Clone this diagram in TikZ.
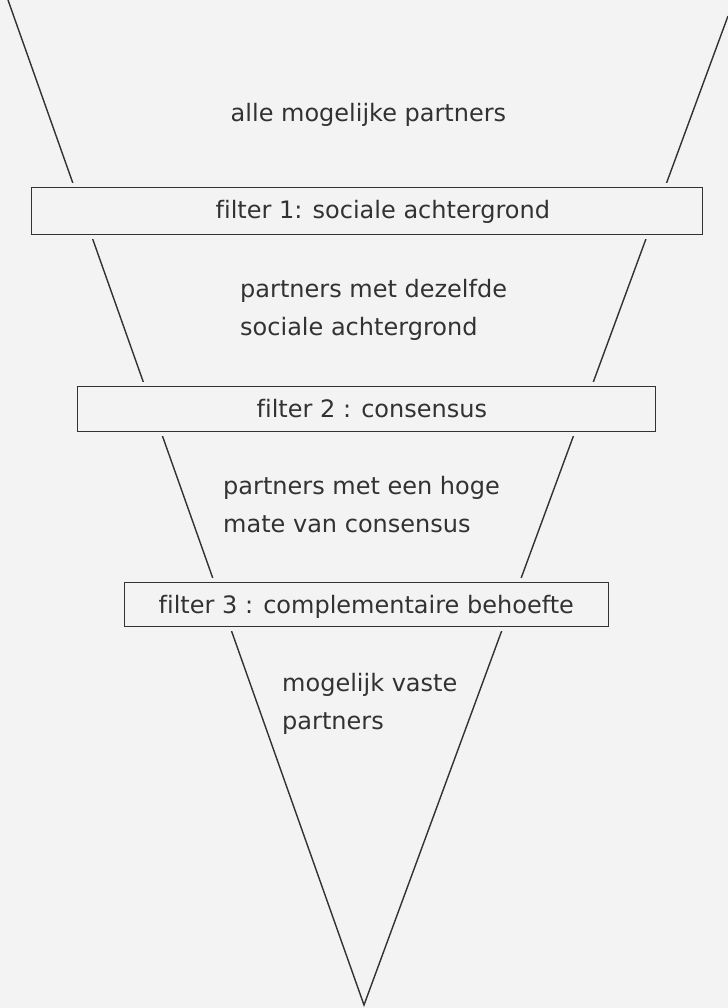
\documentclass[tikz,border=0pt]{standalone}
\usepackage{fontspec}
\setmainfont{DejaVu Sans}[Ligatures={NoCommon}]
\definecolor{bg}{RGB}{243,243,243}
\definecolor{ink}{RGB}{50,50,50}
\begin{document}
\begin{tikzpicture}[x=1bp,y=-1bp,
  txt/.style={font=\fontsize{24bp}{38bp}\selectfont, text=ink, inner sep=0pt},
  lbl/.style={txt, align=left, anchor=north west},
  line1/.style={txt, anchor=base west},
  filterbox/.style={draw=ink, line width=1.4bp, fill=bg, inner sep=0pt,
    anchor=north west, preaction={draw=bg, line width=9bp}},
  funnel/.style={draw=ink, line width=1.4bp}]
\fill[bg] (0,0) rectangle (728,1008);
\useasboundingbox (0,0) rectangle (728,1008);
% funnel
\coordinate (tl) at (8,0);
\coordinate (tr) at (728,16);
\coordinate (apex) at (364,1005);
\draw[funnel] (tl) -- (apex) -- (tr);
% filter boxes
\node[filterbox, minimum width=671bp, minimum height=47bp] (f1) at (31,187) {};
\node[filterbox, minimum width=578bp, minimum height=45bp] (f2) at (77,386) {};
\node[filterbox, minimum width=484bp, minimum height=44bp] (f3) at (124,582) {};
% texts
\node[line1] (n1) at (230.5,121.5) {alle mogelijke partners};
\node[line1] (t1) at (215.5,218) {filter 1: sociale achtergrond};
\node[lbl] (n2) at (240,278.8) {partners met dezelfde\\sociale achtergrond};
\node[line1] (t2) at (256.5,417) {filter 2 : consensus};
\node[lbl] (n3) at (223,475.8) {partners met een hoge\\mate van consensus};
\node[line1] (t3) at (158.5,613) {filter 3 : complementaire behoefte};
\node[lbl] (n4) at (282,672.8) {mogelijk vaste\\partners};
\end{tikzpicture}
\end{document}
